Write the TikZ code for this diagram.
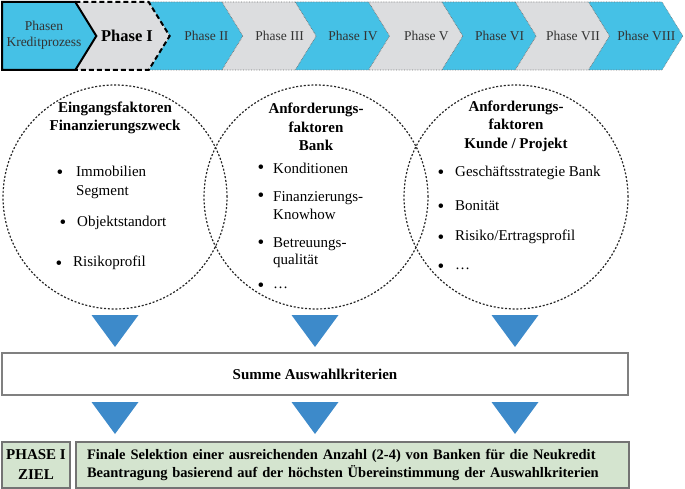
\documentclass[tikz,border=0pt]{standalone}
\usepackage{fontspec}
\setmainfont{Liberation Serif}
\usepackage{xcolor}
\usepackage{tikz}
\usetikzlibrary{positioning,calc}

\definecolor{phcyan}{RGB}{69,193,230}
\definecolor{phgray}{RGB}{220,221,223}
\definecolor{triblue}{RGB}{61,138,202}
\definecolor{zielgreen}{RGB}{212,228,207}

\tikzset{
    phasecyan/.style={fill=phcyan},
    phasegray/.style={fill=phgray},
    phaseline/.style={draw=black!55, line width=0.6pt, densely dotted},
    phlabel/.style={font=\fontsize{13.5}{16}\selectfont, text=black!80, align=center},
    circ/.style={draw=black!85, line width=1.2pt, dash pattern=on 2pt off 1.8pt, circle, minimum size=224pt, inner sep=0pt},
    ctitle/.style={font=\fontsize{15}{18.5}\selectfont\bfseries, align=center},
    citem/.style={font=\fontsize{15}{19}\selectfont, align=left, anchor=west, inner sep=0pt},
    citemtight/.style={citem, font=\fontsize{15}{17.5}\selectfont},
    cbullet/.style={font=\fontsize{19}{19}\selectfont, anchor=base, inner sep=0pt},
    tri/.style={fill=triblue},
    sumbox/.style={draw=black!50, line width=1.2pt, minimum width=626pt, minimum height=42pt, font=\fontsize{15}{18}\selectfont\bfseries},
    zielbox/.style={draw=black!55, fill=zielgreen, line width=1.2pt, minimum height=46pt, font=\fontsize{14.5}{18}\selectfont\bfseries}
}

\begin{document}
\begin{tikzpicture}[x=1pt,y=-1pt]
    \useasboundingbox (0,0) rectangle (685,489);

    % Phasen: Leiste mit Pfeilen
    \foreach \i/\lab/\col in {2/II/phasecyan, 3/III/phasegray, 4/IV/phasecyan, 5/V/phasegray, 6/VI/phasecyan, 7/VII/phasegray, 8/VIII/phasecyan} {
        \draw[\col, phaseline] ({2+73.33*\i},2) -- ({75.33+73.33*\i},2) -- ({96.33+73.33*\i},36) -- ({75.33+73.33*\i},70) -- ({2+73.33*\i},70) -- ({23+73.33*\i},36) -- cycle;
        \node[phlabel] (ph\lab) at ({59.67+73.33*\i},36) {Phase \lab};
    }

    % Phase I (aktuell)
    \fill[phasegray] (75.33,2) -- (148.67,2) -- (169.67,36) -- (148.67,70) -- (75.33,70) -- (96.33,36) -- cycle;
    \draw[black, line width=2pt, dash pattern=on 5pt off 3pt] (75.33,2) -- (148.67,2) -- (169.67,36) -- (148.67,70) -- (75.33,70);
    \node[font=\fontsize{16.5}{18}\selectfont\bfseries] (phI) at (127,36) {Phase I};

    % Kreditprozess
    \draw[phasecyan, draw=black, line width=2pt] (2,2) -- (75.33,2) -- (96.33,36) -- (75.33,70) -- (2,70) -- cycle;
    \node[phlabel] (phasen) at (44,35) {Phasen\\Kreditprozess};

    % Kreise
    \node[circ] (kreis1) at (115,197) {};
    \node[circ] (kreis2) at (316,197) {};
    \node[circ] (kreis3) at (516,197) {};

    \node[ctitle] (titel1) at (115,118) {Eingangsfaktoren\\Finanzierungszweck};
    \node[ctitle] (titel2) at (316,127) {Anforderungs-\\faktoren\\Bank};
    \node[ctitle] (titel3) at (516,126) {Anforderungs-\\faktoren\\Kunde / Projekt};

    % Kreis 1
    \foreach \bx/\by/\tx/\ty/\txt [count=\k] in {60/179/76/182.5/{Immobilien\\Segment}, 63/229/77/223/Objektstandort, 59/269/73/263/Risikoprofil} {
        \node[cbullet] (bA\k) at (\bx,\by) {\textbullet};
        \node[citem] (iA\k) at (\tx,\ty) {\txt};
    }

    % Kreis 2
    \foreach \by/\ty/\txt [count=\k] in {174/168/Konditionen, 202/205.5/{Finanzierungs-\\Knowhow}, 248/252.5/{Betreuungs-\\qualität}} {
        \node[cbullet] (bB\k) at (261,\by) {\textbullet};
        \node[citemtight] (iB\k) at (273,\ty) {\txt};
    }
    \node[cbullet] (bB4) at (261,291) {\textbullet};
    \node[cbullet, font=\fontsize{15}{15}\selectfont, anchor=base west] (iB4) at (273,288) {\dots};

    % Kreis 3
    \foreach \by/\ty/\txt [count=\k] in {179/173/Geschäftsstrategie Bank, 212/206/Bonität, 243/237/{Risiko/Ertragsprofil}} {
        \node[cbullet] (bC\k) at (441,\by) {\textbullet};
        \node[citem] (iC\k) at (455,\ty) {\txt};
    }
    \node[cbullet] (bC4) at (441,272) {\textbullet};
    \node[cbullet, font=\fontsize{15}{15}\selectfont, anchor=base west] (iC4) at (455,269) {\dots};

    % Dreiecke
    \foreach \x in {115,315,515} {
        \fill[tri] (\x-23.5,315) -- (\x+23.5,315) -- (\x,347) -- cycle;
        \fill[tri] (\x-23.5,402) -- (\x+23.5,402) -- (\x,434) -- cycle;
    }

    \node[sumbox] (summe) at (315,374) {Summe Auswahlkriterien};

    % Ziel
    \node[zielbox, minimum width=68pt, align=center, font=\fontsize{15}{20}\selectfont\bfseries] (zielphase) at (36,465) {PHASE I\\ZIEL};
    \node[zielbox, text width=531pt, inner xsep=11pt, align=left] (ziel) at (352.5,465) {Finale Selektion einer ausreichenden Anzahl (2-4) von Banken für die Neukredit\\Beantragung basierend auf der höchsten Übereinstimmung der Auswahlkriterien};
\end{tikzpicture}
\end{document}
